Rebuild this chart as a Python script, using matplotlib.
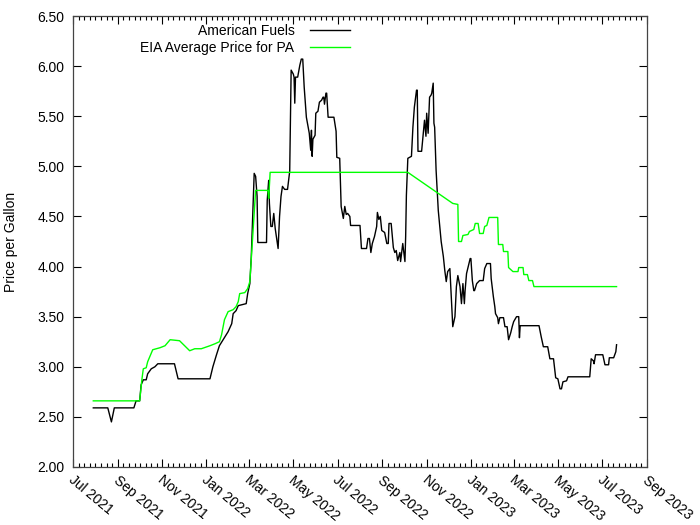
import matplotlib
matplotlib.use('Agg')
import numpy as np
import pandas as pd
import matplotlib.pyplot as plt
import matplotlib.dates as mdates
import matplotlib.transforms as mtransforms
from matplotlib.ticker import FixedLocator, FormatStrFormatter

# American Fuels price readings
af_dates = [
    '2021-07-29', '2021-08-18', '2021-08-23', '2021-08-27', '2021-09-23', '2021-09-26',
    '2021-10-01', '2021-10-03', '2021-10-06', '2021-10-10', '2021-10-12', '2021-10-17',
    '2021-10-22', '2021-10-26', '2021-11-18', '2021-11-23', '2022-01-06', '2022-01-10',
    '2022-01-15', '2022-01-19', '2022-01-25', '2022-01-31', '2022-02-05', '2022-02-07',
    '2022-02-11', '2022-02-14', '2022-02-25', '2022-02-27', '2022-03-02', '2022-03-04',
    '2022-03-06', '2022-03-08', '2022-03-10', '2022-03-12', '2022-03-13', '2022-03-25',
    '2022-03-26', '2022-03-28', '2022-03-29', '2022-03-31', '2022-04-02', '2022-04-04',
    '2022-04-06', '2022-04-08', '2022-04-10', '2022-04-12', '2022-04-14', '2022-04-16',
    '2022-04-19', '2022-04-23', '2022-04-26', '2022-04-28', '2022-05-01', '2022-05-02',
    '2022-05-03', '2022-05-04', '2022-05-07', '2022-05-10', '2022-05-12', '2022-05-14',
    '2022-05-16', '2022-05-19', '2022-05-23', '2022-05-25', '2022-05-26', '2022-05-27',
    '2022-05-28', '2022-05-31', '2022-06-01', '2022-06-04', '2022-06-06', '2022-06-09',
    '2022-06-11', '2022-06-12', '2022-06-13', '2022-06-15', '2022-06-16', '2022-06-18',
    '2022-06-26', '2022-06-29', '2022-06-30', '2022-07-04', '2022-07-06', '2022-07-09',
    '2022-07-11', '2022-07-13', '2022-07-15', '2022-07-18', '2022-07-19', '2022-08-01',
    '2022-08-03', '2022-08-10', '2022-08-12', '2022-08-14', '2022-08-16', '2022-08-18',
    '2022-08-21', '2022-08-24', '2022-08-25', '2022-08-27', '2022-08-29', '2022-08-31',
    '2022-09-04', '2022-09-07', '2022-09-09', '2022-09-10', '2022-09-13', '2022-09-16',
    '2022-09-18', '2022-09-20', '2022-09-22', '2022-09-25', '2022-09-26', '2022-09-29',
    '2022-10-02', '2022-10-03', '2022-10-04', '2022-10-06', '2022-10-11', '2022-10-13',
    '2022-10-15', '2022-10-18', '2022-10-19', '2022-10-20', '2022-10-25', '2022-10-27',
    '2022-10-29', '2022-10-31', '2022-11-01', '2022-11-03', '2022-11-05', '2022-11-07',
    '2022-11-08', '2022-11-10', '2022-11-11', '2022-11-12', '2022-11-14', '2022-11-17',
    '2022-11-19', '2022-11-21', '2022-11-24', '2022-11-26', '2022-11-28', '2022-11-30',
    '2022-12-03', '2022-12-05', '2022-12-07', '2022-12-10', '2022-12-12', '2022-12-14',
    '2022-12-17', '2022-12-19', '2022-12-21', '2022-12-23', '2022-12-24', '2022-12-26',
    '2022-12-31', '2023-01-01', '2023-01-03', '2023-01-05', '2023-01-06', '2023-01-09',
    '2023-01-13', '2023-01-18', '2023-01-20', '2023-01-23', '2023-01-28', '2023-01-29',
    '2023-02-01', '2023-02-03', '2023-02-04', '2023-02-07', '2023-02-08', '2023-02-10',
    '2023-02-15', '2023-02-17', '2023-02-20', '2023-02-22', '2023-02-25', '2023-02-27',
    '2023-03-01', '2023-03-05', '2023-03-08', '2023-03-09', '2023-03-10', '2023-04-05',
    '2023-04-08', '2023-04-11', '2023-04-17', '2023-04-20', '2023-04-25', '2023-04-28',
    '2023-05-01', '2023-05-04', '2023-05-06', '2023-05-08', '2023-05-13', '2023-05-15',
    '2023-06-14', '2023-06-16', '2023-06-19', '2023-06-20', '2023-06-22', '2023-07-02',
    '2023-07-05', '2023-07-10', '2023-07-11', '2023-07-17', '2023-07-20', '2023-07-21',
]
af_price = [
    2.59, 2.59, 2.45, 2.59, 2.59, 2.66,
    2.66, 2.82, 2.87, 2.87, 2.93, 2.98,
    3.00, 3.03, 3.03, 2.88, 2.88, 3.00,
    3.12, 3.21, 3.28, 3.35, 3.43, 3.53,
    3.56, 3.61, 3.63, 3.73, 3.83, 4.10,
    4.50, 4.93, 4.90, 4.70, 4.24, 4.24,
    4.66, 4.86, 4.63, 4.40, 4.40, 4.53,
    4.38, 4.28, 4.18, 4.50, 4.70, 4.80,
    4.77, 4.77, 4.95, 5.96, 5.92, 5.89,
    5.63, 5.89, 5.89, 6.01, 6.07, 6.07,
    5.79, 5.49, 5.33, 5.16, 5.36, 5.10,
    5.27, 5.31, 5.53, 5.55, 5.64, 5.66,
    5.69, 5.69, 5.62, 5.73, 5.73, 5.49,
    5.49, 5.35, 5.09, 5.08, 4.60, 4.48,
    4.60, 4.52, 4.53, 4.50, 4.41, 4.41,
    4.18, 4.18, 4.28, 4.28, 4.14, 4.23,
    4.30, 4.40, 4.54, 4.47, 4.50, 4.36,
    4.34, 4.23, 4.23, 4.43, 4.43, 4.19,
    4.14, 4.16, 4.06, 4.14, 4.05, 4.23,
    4.05, 4.30, 4.71, 5.08, 5.10, 5.39,
    5.59, 5.76, 5.76, 5.15, 5.15, 5.30,
    5.46, 5.30, 5.53, 5.33, 5.69, 5.71,
    5.73, 5.83, 5.43, 5.39, 4.96, 4.56,
    4.40, 4.25, 4.10, 3.96, 3.85, 3.95,
    3.98, 3.70, 3.40, 3.50, 3.80, 3.91,
    3.80, 3.63, 3.83, 3.63, 3.76, 3.93,
    4.08, 4.08, 3.86, 3.76, 3.76, 3.83,
    3.86, 3.86, 3.98, 4.03, 4.03, 3.88,
    3.70, 3.60, 3.53, 3.49, 3.43, 3.49,
    3.49, 3.40, 3.40, 3.27, 3.34, 3.40,
    3.45, 3.50, 3.50, 3.29, 3.41, 3.41,
    3.30, 3.20, 3.20, 3.08, 3.08, 2.89,
    2.88, 2.78, 2.78, 2.85, 2.86, 2.90,
    2.90, 3.08, 3.06, 3.03, 3.12, 3.12,
    3.02, 3.02, 3.09, 3.09, 3.15, 3.22,
]

# EIA average price for PA
eia_dates = [
    '2021-07-29', '2021-10-01', '2021-10-04', '2021-10-06', '2021-10-10', '2021-10-12',
    '2021-10-19', '2021-10-29', '2021-11-05', '2021-11-12', '2021-11-25', '2021-12-02',
    '2021-12-09', '2021-12-16', '2021-12-25', '2022-01-06', '2022-01-13', '2022-01-19',
    '2022-01-22', '2022-01-26', '2022-01-31', '2022-02-07', '2022-02-11', '2022-02-14',
    '2022-02-16', '2022-02-23', '2022-02-27', '2022-03-02', '2022-03-10', '2022-03-27',
    '2022-03-28', '2022-03-30', '2022-10-06', '2022-12-07', '2022-12-14', '2022-12-15',
    '2022-12-19', '2022-12-21', '2022-12-28', '2022-12-30', '2023-01-05', '2023-01-07',
    '2023-01-11', '2023-01-13', '2023-01-18', '2023-01-20', '2023-01-23', '2023-01-26',
    '2023-02-07', '2023-02-08', '2023-02-14', '2023-02-15', '2023-02-21', '2023-02-22',
    '2023-02-28', '2023-03-07', '2023-03-08', '2023-03-14', '2023-03-15', '2023-03-20',
    '2023-03-22', '2023-03-27', '2023-03-29', '2023-07-21',
]
eia_price = [
    2.66, 2.66, 2.87, 2.98, 2.99, 3.05,
    3.17, 3.19, 3.21, 3.27, 3.26, 3.21,
    3.16, 3.18, 3.18, 3.21, 3.23, 3.25,
    3.32, 3.47, 3.55, 3.57, 3.60, 3.65,
    3.73, 3.74, 3.78, 3.85, 4.76, 4.76,
    4.68, 4.94, 4.94, 4.63, 4.62, 4.25,
    4.25, 4.31, 4.32, 4.35, 4.37, 4.43,
    4.43, 4.33, 4.33, 4.40, 4.41, 4.49,
    4.49, 4.22, 4.22, 4.15, 4.15, 3.99,
    3.95, 3.95, 3.99, 3.99, 3.92, 3.92,
    3.86, 3.86, 3.80, 3.80,
]

plt.rcParams['font.family'] = ['Liberation Sans', 'DejaVu Sans']
plt.rcParams['font.size'] = 10

fig = plt.figure(figsize=(7, 5.25), dpi=100)
ax = fig.add_axes([73 / 700, 58 / 525, 574 / 700, 451 / 525])

ax.plot(pd.to_datetime(af_dates), af_price, color='black', lw=1, label='American Fuels')
ax.plot(pd.to_datetime(eia_dates), eia_price, color='#00ff00', lw=1, label='EIA Average Price for PA')

x0, x1 = pd.Timestamp('2021-07-01'), pd.Timestamp('2023-09-01')
ax.set_xlim(x0, x1)
ax.set_ylim(2, 6.5)

# major ticks every 2 months, 8 minor subdivisions (gnuplot style)
major = mdates.date2num(pd.date_range(x0, x1, freq='2MS'))
minor = []
for a, b in zip(major[:-1], major[1:]):
    minor.extend(np.linspace(a, b, 9)[1:-1])
ax.xaxis.set_major_locator(FixedLocator(major))
ax.xaxis.set_minor_locator(FixedLocator(minor))
ax.xaxis.set_major_formatter(mdates.DateFormatter('%b %Y'))
ax.set_yticks(np.arange(2, 6.51, 0.5))
ax.yaxis.set_major_formatter(FormatStrFormatter('%.2f'))

ax.tick_params(which='both', direction='in', top=True, right=True, colors='black')
ax.tick_params(which='major', length=6, width=0.8)
ax.tick_params(which='minor', length=3, width=0.8)
ax.tick_params(axis='x', pad=4.3)
ax.tick_params(axis='y', pad=6)
shift = mtransforms.ScaledTranslation(0.02, 0, fig.dpi_scale_trans)
for lbl in ax.get_xticklabels():
    lbl.set_rotation(-40)
    lbl.set_ha('left')
    lbl.set_va('top')
    lbl.set_rotation_mode('anchor')
    lbl.set_transform(lbl.get_transform() + shift)

for sp in ax.spines.values():
    sp.set_linewidth(0.9)
    sp.set_color('#444444')

ax.set_ylabel('Price per Gallon')
ax.yaxis.set_label_coords(-0.096, 0.5)

ax.legend(loc='upper right', bbox_to_anchor=(350 / 700, 501 / 525),
          bbox_transform=fig.transFigure, frameon=False, markerfirst=False,
          handlelength=2.9, handletextpad=1.1, labelspacing=0.2,
          borderpad=0, borderaxespad=0)

fig.savefig('out.png', dpi=100)
